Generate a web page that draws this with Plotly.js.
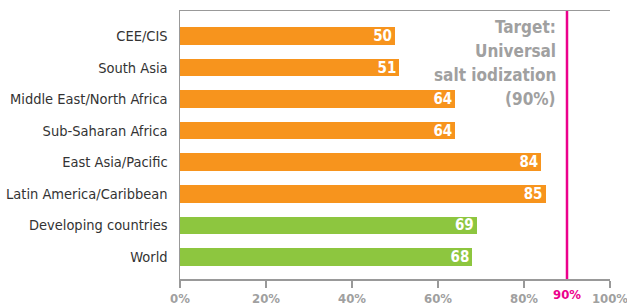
<!DOCTYPE html>
<html><head><meta charset="utf-8">
<script src="https://cdn.plot.ly/plotly-3.0.1.min.js"></script>
<style>html,body{margin:0;padding:0;background:#fff;}#chart{width:627px;height:306px;}</style>
</head><body><div id="chart"></div>
<script>
const categories = ["CEE/CIS","South Asia","Middle East/North Africa","Sub-Saharan Africa","East Asia/Pacific","Latin America/Caribbean","Developing countries","World"];
const values = [50,51,64,64,84,85,69,68];
const barColors = ["#F7941D","#F7941D","#F7941D","#F7941D","#F7941D","#F7941D","#8DC63F","#8DC63F"];
const tickValues = [0,20,40,60,80,100];
const tickLabels = ["0%","20%","40%","60%","80%","100%"];
const target = 90;
const targetLabel = "90%";
const targetLines = ["Target:","Universal","salt iodization","(90%)"];

const font = "'DejaVu Sans Condensed','Liberation Sans Narrow',Arial,sans-serif";

const trace = {
  type: "bar", orientation: "h",
  x: values, y: categories,
  marker: {color: barColors},
  width: 0.555,
  text: values.map(String),
  textposition: "inside", insidetextanchor: "end", constraintext: "none",
  textfont: {family: font, size: 15, color: "#fff", weight: "bold"},
  hoverinfo: "none", cliponaxis: false
};

const annotations = [
  {xref: "x", yref: "paper", x: target, y: 0, yshift: -6, text: targetLabel, showarrow: false,
   xanchor: "center", yanchor: "top", font: {family: font, size: 13, color: "#EC008C", weight: "bold"}}
];
targetLines.forEach((t, i) => annotations.push({
  xref: "x", yref: "paper", x: target, xshift: -9, y: 1, yshift: -4 - 24 * i, text: t, showarrow: false,
  xanchor: "right", yanchor: "top", align: "right",
  font: {family: font, size: 17, color: "#A0A0A0", weight: "bold"}
}));

const layout = {
  width: 627, height: 306,
  margin: {l: 180, r: 17, t: 11, b: 27, pad: 0},
  paper_bgcolor: "#fff", plot_bgcolor: "#fff",
  showlegend: false,
  bargap: 0,
  xaxis: {
    range: [0, 100], tickvals: tickValues, ticktext: tickLabels,
    showgrid: false, zeroline: false,
    showline: true, mirror: true, linecolor: "#999", linewidth: 1.5,
    ticks: "outside", ticklen: 7, tickcolor: "#999", tickwidth: 1.5,
    ticklabeloverflow: "allow",
    tickfont: {family: font, size: 13, color: "#A0A0A0", weight: "bold"},
    fixedrange: true
  },
  yaxis: {
    type: "category", range: [7.7, -0.79],
    showgrid: false, zeroline: false,
    showline: true, linecolor: "#999", linewidth: 1.5,
    ticks: "", ticklabelstandoff: 8,
    tickfont: {family: font, size: 14.5, color: "#333"},
    fixedrange: true
  },
  shapes: [{
    type: "line", xref: "x", yref: "paper", x0: target, x1: target, y0: 0, y1: 1,
    line: {color: "#EC008C", width: 2.5}
  }],
  annotations: annotations
};

Plotly.newPlot("chart", [trace], layout, {displayModeBar: false, staticPlot: true});
</script></body></html>
